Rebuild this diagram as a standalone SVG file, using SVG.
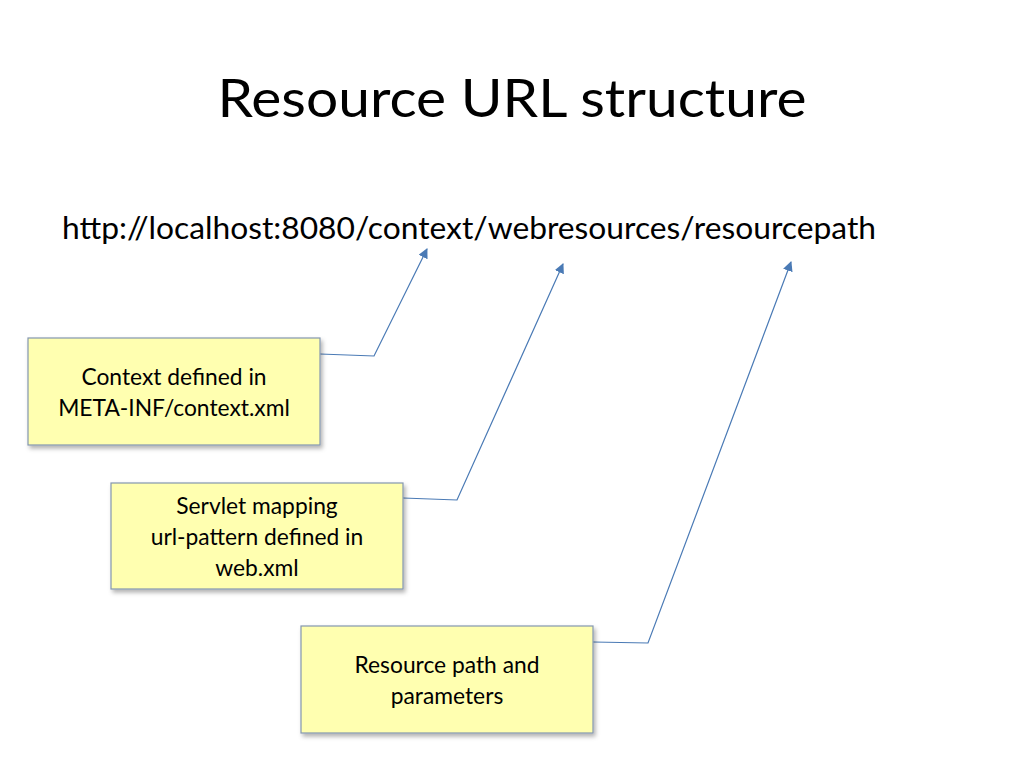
<svg xmlns="http://www.w3.org/2000/svg" width="1024" height="768" viewBox="0 0 1024 768">
<defs>
<style>
.t{font-family:Lato,"Open Sans","Liberation Sans",sans-serif;fill:#000}
.box{fill:#ffffb0;stroke:#8497b0;stroke-width:1.2}
.conn{fill:none;stroke:#4a7ab5;stroke-width:1.2}
.lbl{font-family:Lato,"Open Sans","Liberation Sans",sans-serif;font-size:22.8px;text-anchor:middle;fill:#000}
</style>
<filter id="sh" x="-10%" y="-10%" width="130%" height="130%">
<feDropShadow dx="2" dy="3" stdDeviation="2" flood-color="#000" flood-opacity="0.3"/>
</filter>
<marker id="ah" viewBox="0 0 10 10" refX="9" refY="5" markerWidth="10" markerHeight="10" markerUnits="userSpaceOnUse" orient="auto">
<path d="M0,0 L10,5 L0,10 Z" fill="#4a7ab5"/>
</marker>
</defs>
<rect width="1024" height="768" fill="#fff"/>
<text class="t" x="512" y="117" font-size="52" text-anchor="middle" textLength="589" lengthAdjust="spacingAndGlyphs">Resource URL structure</text>
<text class="t" x="62" y="239" font-size="30" textLength="814" lengthAdjust="spacingAndGlyphs">http://localhost:8080/context/webresources/resourcepath</text>
<g id="connectors">
<polyline class="conn" points="320,354 374,356 427,249" marker-end="url(#ah)"/>
<polyline class="conn" points="403,498 457,500 563,264" marker-end="url(#ah)"/>
<polyline class="conn" points="593,642 648,643 791,262" marker-end="url(#ah)"/>
</g>
<g id="node1">
<rect class="box" x="28" y="338" width="292" height="107" filter="url(#sh)"/>
<text class="lbl" x="174" y="385">Context defined in</text>
<text class="lbl" x="174" y="416">META-INF/context.xml</text>
</g>
<g id="node2">
<rect class="box" x="111" y="483" width="292" height="106" filter="url(#sh)"/>
<text class="lbl" x="257" y="514">Servlet mapping</text>
<text class="lbl" x="257" y="545">url-pattern defined in</text>
<text class="lbl" x="257" y="576">web.xml</text>
</g>
<g id="node3">
<rect class="box" x="301" y="626" width="292" height="107" filter="url(#sh)"/>
<text class="lbl" x="447" y="673">Resource path and</text>
<text class="lbl" x="447" y="704">parameters</text>
</g>
</svg>
